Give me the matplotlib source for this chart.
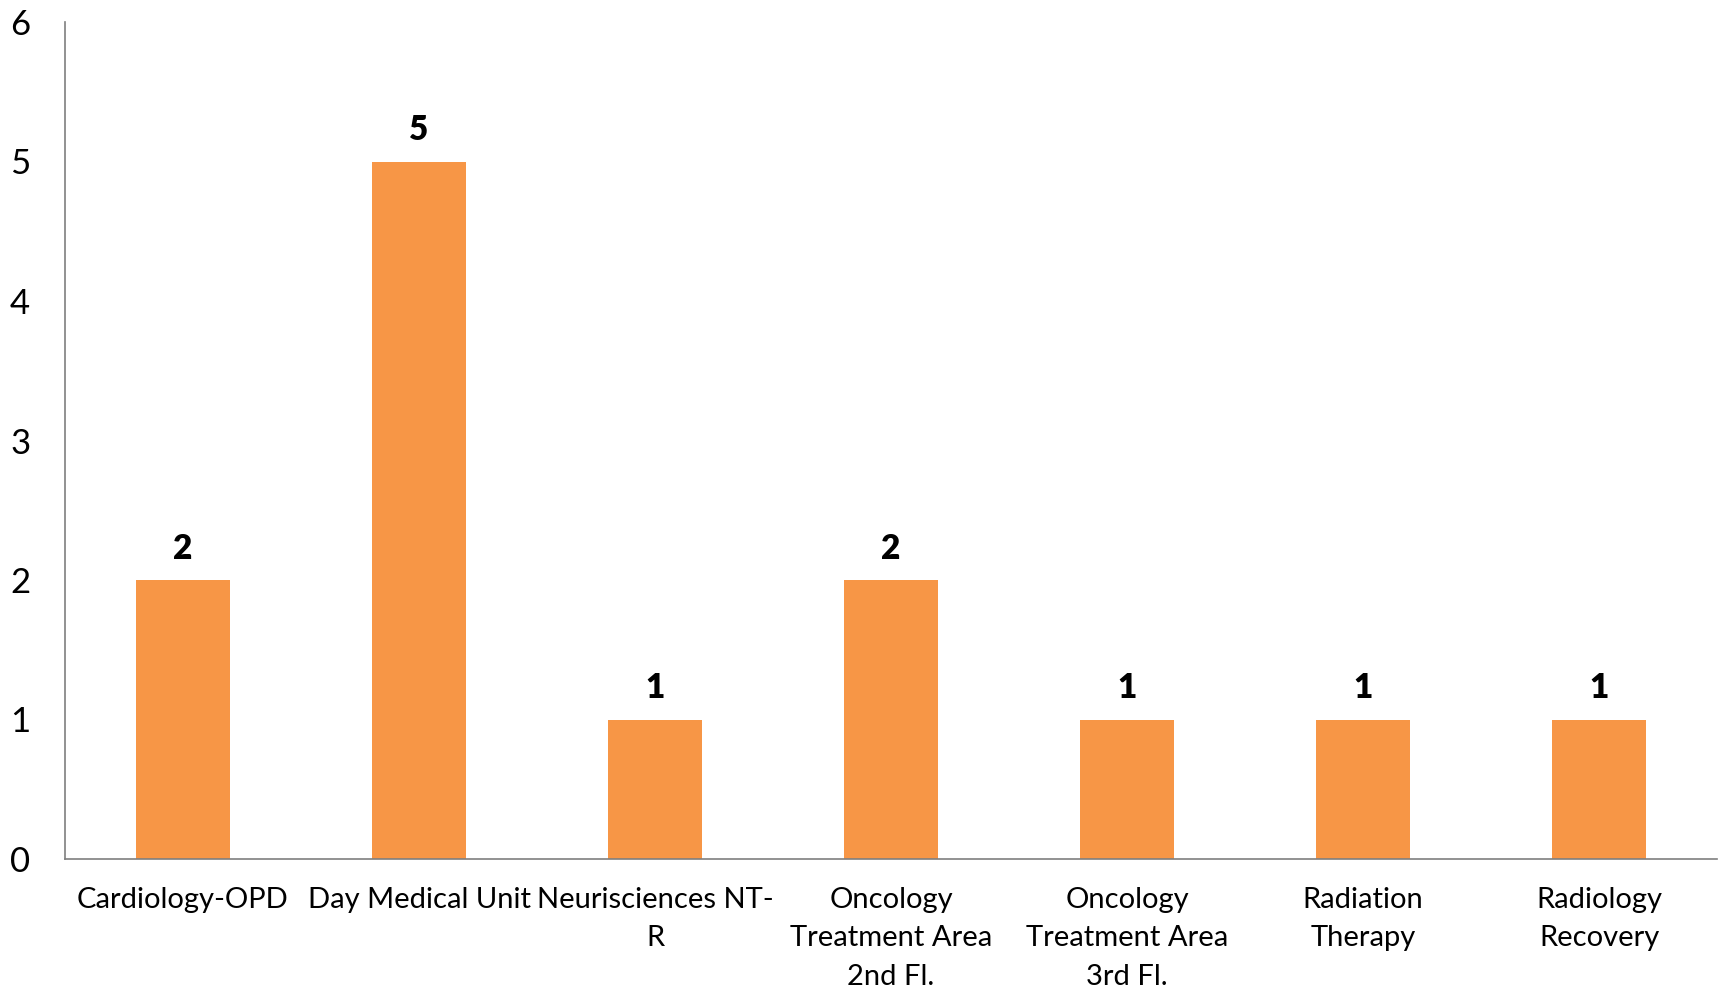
import matplotlib
matplotlib.use("Agg")
import matplotlib.pyplot as plt

categories = ["Cardiology-OPD", "Day Medical Unit", "Neurisciences NT-\nR",
              "Oncology\nTreatment Area\n2nd Fl.", "Oncology\nTreatment Area\n3rd Fl.",
              "Radiation\nTherapy", "Radiology\nRecovery"]
values = [2, 5, 1, 2, 1, 1, 1]
y_ticks = [0, 1, 2, 3, 4, 5, 6]

plt.rcParams['font.family'] = ['Lato', 'DejaVu Sans']

fig = plt.figure(figsize=(17.21, 9.91), dpi=100)
ax = fig.add_axes([65/1721, 1-859/991, (1717-65)/1721, (859-22)/991])

x = list(range(len(categories)))
bars = ax.bar(x, values, width=0.4, color="#F79646")
ax.set_xlim(-0.5, len(categories)-0.5)
ax.set_ylim(0, 6)
ax.set_yticks(y_ticks)
ax.set_yticklabels([str(v) for v in y_ticks], fontsize=25)
ax.set_xticks(x)
ax.set_xticklabels(categories, fontsize=21, linespacing=1.6)
ax.tick_params(axis='y', length=0, pad=25)
ax.tick_params(axis='x', length=0, pad=20)
for s in ["top", "right"]:
    ax.spines[s].set_visible(False)
for s in ["left", "bottom"]:
    ax.spines[s].set_color("#7f7f7f")
    ax.spines[s].set_linewidth(1.2)

for xi, v in zip(x, values):
    ax.annotate(str(v), (xi, v), xytext=(0, 11), textcoords="offset points",
                ha="center", va="bottom", fontsize=24, fontweight="heavy")

fig.savefig("out.png", dpi=100)
